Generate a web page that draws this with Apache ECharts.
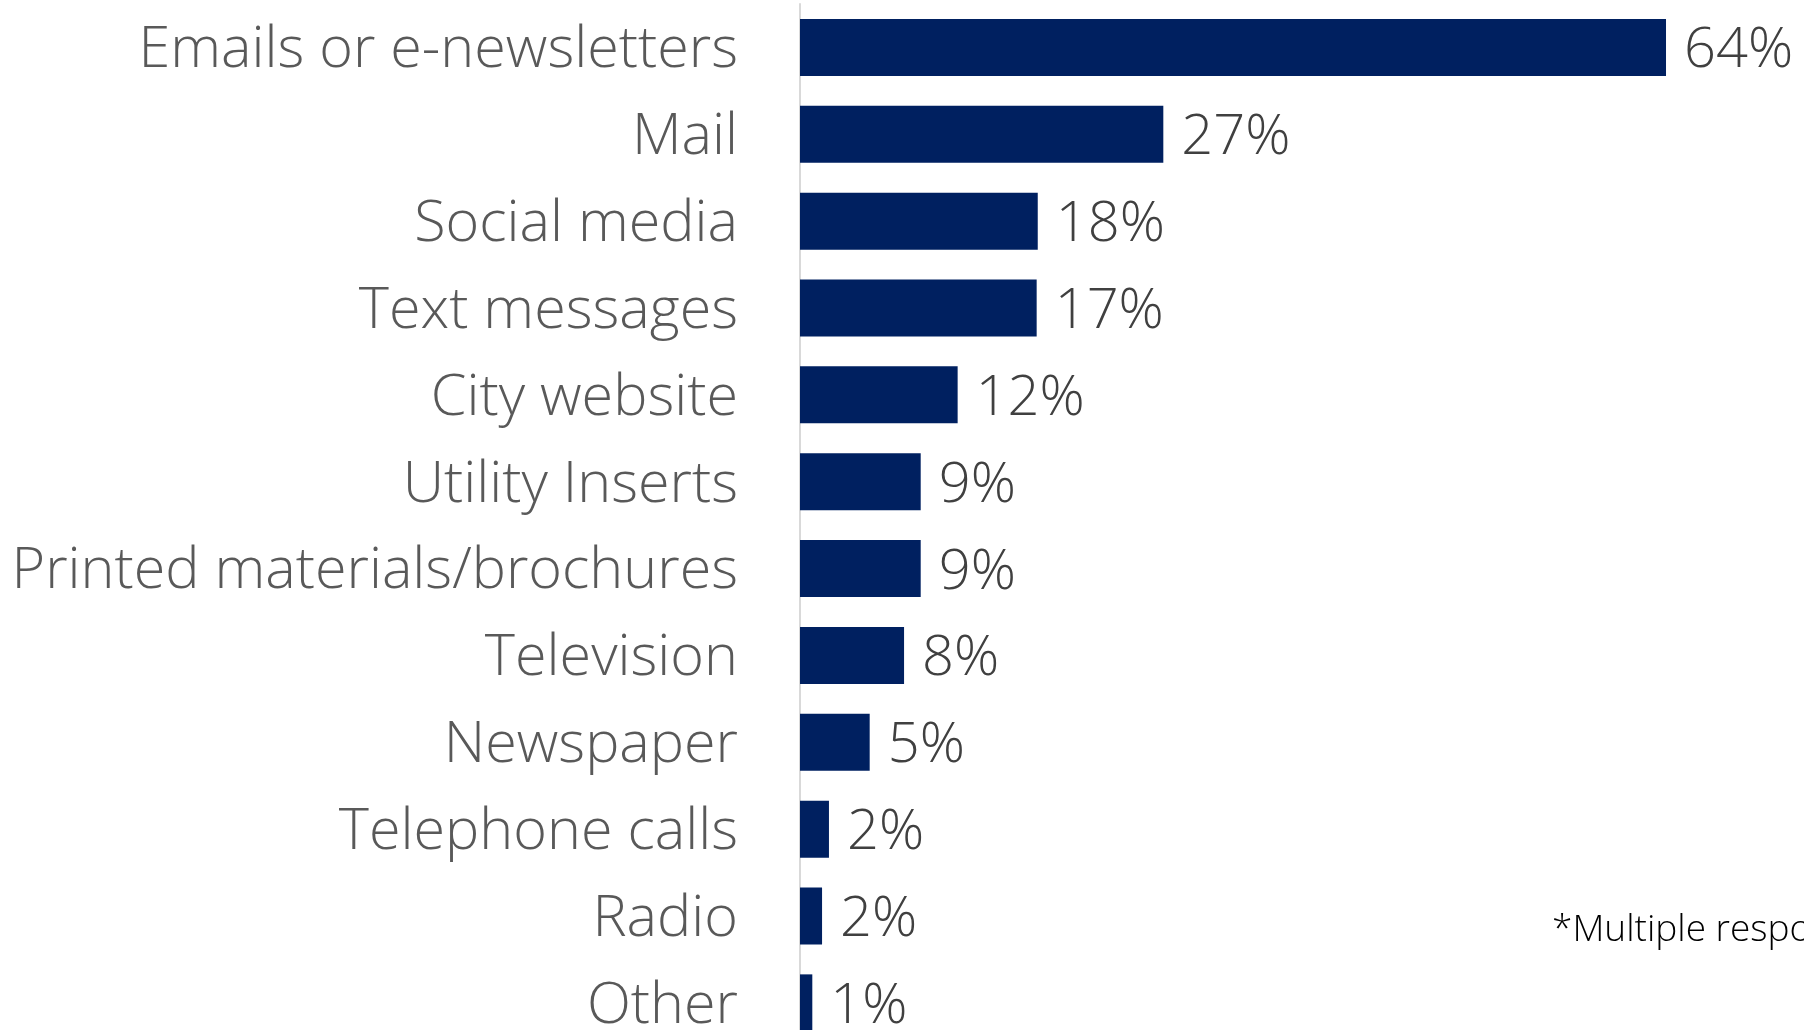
<!DOCTYPE html>
<html>
<head>
<meta charset="utf-8">
<script src="https://cdn.jsdelivr.net/npm/echarts@6/dist/echarts.min.js"></script>
<style>
html,body{margin:0;padding:0;background:#fff;overflow:hidden;}
#chart{width:1804px;height:1050px;}
</style>
</head>
<body>
<div id="chart"></div>
<script>
const categories = ["Emails or e-newsletters","Mail","Social media","Text messages","City website","Utility Inserts","Printed materials/brochures","Television","Newspaper","Telephone calls","Radio","Other"];
const values = [64.0, 26.85, 17.57, 17.49, 11.65, 8.92, 8.92, 7.69, 5.15, 2.14, 1.63, 0.91];
const footnote = "*Multiple responses allowed";

const FONT = "'Open Sans', 'Noto Sans', sans-serif";
const chart = echarts.init(document.getElementById('chart'));
chart.setOption({
  animation: false,
  backgroundColor: '#ffffff',
  grid: { left: 800, top: 4, width: 947.2, height: 1042.3 },
  xAxis: { type: 'value', min: 0, max: 70, show: false },
  yAxis: {
    type: 'category', data: categories, inverse: true,
    axisLine: { show: true, lineStyle: { color: '#d9d9d9', width: 2 } },
    axisTick: { show: false },
    axisLabel: {
      margin: 62,
      formatter: v => '{a|' + v + '}',
      rich: { a: { fontFamily: FONT, fontWeight: 300, fontSize: 57.5, color: '#595959', padding: [7, 0, 0, 0] } }
    }
  },
  series: [{
    type: 'bar', data: values, barWidth: 57,
    itemStyle: { color: '#002060' },
    label: {
      show: true, position: 'right', distance: 18, offset: [0, 4],
      fontFamily: FONT, fontWeight: 300, fontSize: 56, color: '#404040',
      formatter: p => Math.round(p.value) + '%'
    }
  }],
  graphic: [{
    type: 'text', left: 1552, top: 912,
    style: { text: footnote, font: "300 37px " + FONT, fill: '#000000' }
  }]
});
</script>
</body>
</html>
